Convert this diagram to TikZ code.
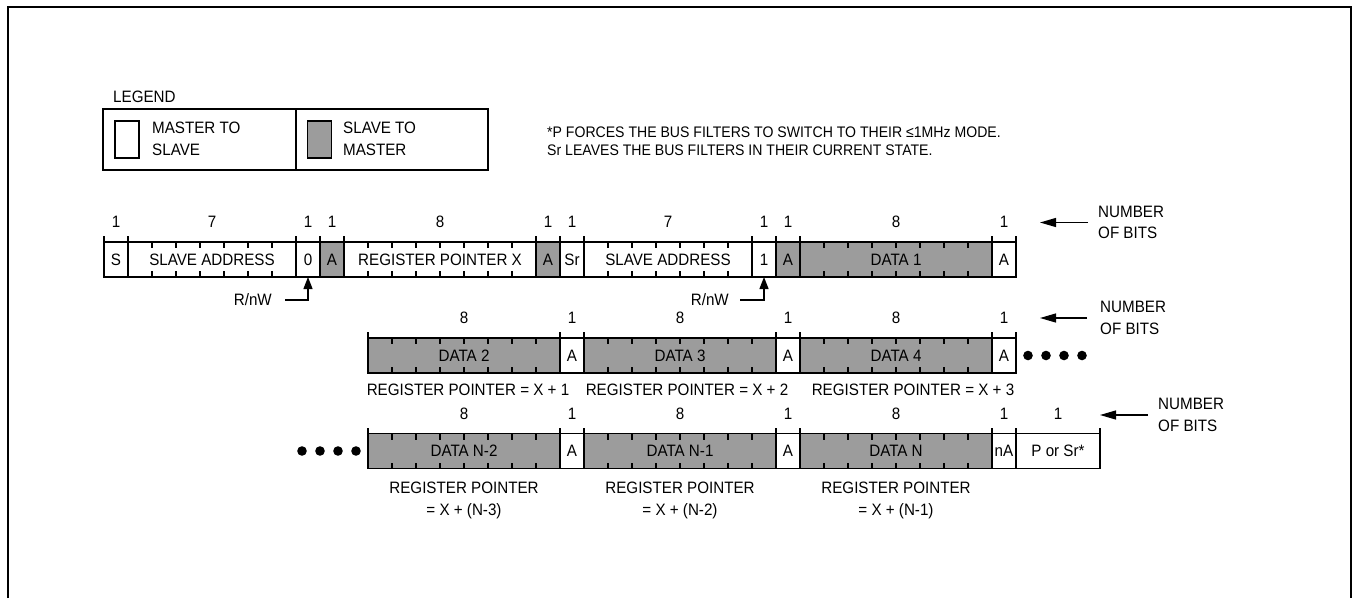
\documentclass[tikz,border=0pt]{standalone}
\usepackage{fontspec}
\setmainfont[FakeStretch=0.92]{Liberation Sans}
\usetikzlibrary{arrows.meta,positioning}
\definecolor{slavegray}{HTML}{9C9C9C}

% ticks and raised separators for one field
\newcommand\bitticks[2]{%
  \ifnum#2>1
    \foreach \k in {2,...,#2}{%
      \draw[tick] ([xshift=(\k-1)*24pt]#1.north west) -- ++(0,-6);
      \draw[tick] ([xshift=(\k-1)*24pt]#1.south west) -- ++(0,6);}
  \fi
  \draw[sep] (#1.north west) -- ++(0,6);
  \draw[sep] (#1.north east) -- ++(0,6);}

\begin{document}
\begin{tikzpicture}[x=1pt,y=1pt,>={Triangle[length=16pt,width=9pt]},
  font=\fontsize{16.5}{21.5}\selectfont,
  field/.style={draw,line width=1.8pt,fill=white,minimum height=35pt,inner sep=0pt,outer sep=0pt,anchor=west},
  slave/.style={field,fill=slavegray},
  tick/.style={line width=1.2pt},
  sep/.style={line width=1.8pt},
  plain/.style={inner sep=0pt,align=center},
  legendbox/.style={draw,line width=1.6pt,minimum height=61pt,inner sep=0pt,outer sep=0pt},
  key/.style={draw,line width=1.2pt,minimum width=24pt,minimum height=37pt,inner sep=0pt},
  pointer/.style={line width=1.3pt,-{Triangle[length=12pt,width=9pt]}},
  numarrow/.style={line width=1.3pt,->}]
  \useasboundingbox (0,0) rectangle (1353,-598);
  \draw[line width=1.4pt] (8,-598) -- (8,-7) -- (1351,-7) -- (1351,-598);

  % legend
  \node[plain,anchor=south west] (legendtitle) at (113,-103) {LEGEND};
  \node[legendbox,minimum width=193pt,anchor=north west] (legm) at (103,-109) {};
  \node[legendbox,minimum width=192pt,anchor=west] (legs) at (legm.east) {};
  \node[key] (keym) at (127,-139.5) {};
  \node[key,fill=slavegray] (keys) at (319.5,-139.5) {};
  \node[plain,align=left,anchor=west,font=\fontsize{16.5}{22}\selectfont] (keymtxt) at (152,-139) {MASTER TO\\SLAVE};
  \node[plain,align=left,anchor=west,font=\fontsize{16.5}{22}\selectfont] (keystxt) at (343,-139) {SLAVE TO\\MASTER};
  \node[plain,align=left,anchor=west,font=\fontsize{15.3}{18}\selectfont] (note) at (547,-141)
    {*P FORCES THE BUS FILTERS TO SWITCH TO THEIR ≤1MHz MODE.\\Sr LEAVES THE BUS FILTERS IN THEIR CURRENT STATE.};

  % first line: address, pointer, repeated start, data 1
  \foreach \i/\off/\len/\cnt/\kind/\txt in {1/0/1/1/field/S, 2/1/7/7/field/SLAVE ADDRESS, 3/8/1/1/field/0,
      4/9/1/1/slave/A, 5/10/8/8/field/REGISTER POINTER X, 6/18/1/1/slave/A, 7/19/1/1/field/Sr,
      8/20/7/7/field/SLAVE ADDRESS, 9/27/1/1/field/1, 10/28/1/1/slave/A, 11/29/8/8/slave/DATA 1, 12/37/1/1/field/A}{
    \node[\kind,minimum width=\len*24pt] (a\i) at (104+\off*24,-259.5) {\txt};
    \node[plain] (na\i) at ([yshift=20pt]a\i.north) {\cnt};
    \bitticks{a\i}{\cnt}}

  % second line
  \foreach \i/\off/\len/\cnt/\kind/\txt in {1/0/8/8/slave/DATA 2, 2/8/1/1/field/A, 3/9/8/8/slave/DATA 3,
      4/17/1/1/field/A, 5/18/8/8/slave/DATA 4, 6/26/1/1/field/A}{
    \node[\kind,minimum width=\len*24pt] (b\i) at (368+\off*24,-355.5) {\txt};
    \node[plain] (nb\i) at ([yshift=20pt]b\i.north) {\cnt};
    \bitticks{b\i}{\cnt}}

  % last line
  \foreach \i/\off/\len/\cnt/\kind/\txt in {1/0/8/8/slave/DATA N-2, 2/8/1/1/field/A, 3/9/8/8/slave/DATA N-1,
      4/17/1/1/field/A, 5/18/8/8/slave/DATA N, 6/26/1/1/field/nA, 7/27/3.5/1/field/P or Sr*}{
    \node[\kind,minimum width=\len*24pt] (c\i) at (368+\off*24,-451) {\txt};
    \node[plain] (nc\i) at ([yshift=20pt]c\i.north) {\cnt};
    \bitticks{c\i}{\cnt}}

  \foreach \x in {1028,1046,1064,1082} \fill (\x,-355.5) circle (4.8pt);
  \foreach \x in {302,320,338,356} \fill (\x,-451) circle (4.8pt);

  % R/nW bits
  \node[plain,anchor=east] (rw1) at (272,-300) {R/nW};
  \node[plain,anchor=east] (rw2) at (729,-300) {R/nW};
  \draw[pointer] ([xshift=13pt]rw1.east) -| (a3.south);
  \draw[pointer] ([xshift=11pt]rw2.east) -| (a9.south);

  % register pointer notes
  \node[plain,below=10.5pt of b1,xshift=4pt] (pb1) {REGISTER POINTER = X + 1};
  \node[plain,below=10.5pt of b3,xshift=7pt] (pb3) {REGISTER POINTER = X + 2};
  \node[plain,below=10.5pt of b5,xshift=17pt] (pb5) {REGISTER POINTER = X + 3};
  \node[plain,below=13pt of c1,font=\fontsize{16.5}{22}\selectfont] (pc1) {REGISTER POINTER\\= X + (N-3)};
  \node[plain,below=13pt of c3,font=\fontsize{16.5}{22}\selectfont] (pc3) {REGISTER POINTER\\= X + (N-2)};
  \node[plain,below=13pt of c5,font=\fontsize{16.5}{22}\selectfont] (pc5) {REGISTER POINTER\\= X + (N-1)};

  % number of bits
  \node[plain,align=left,anchor=west] (bits1) at (1098,-222.5) {NUMBER\\OF BITS};
  \node[plain,align=left,anchor=west] (bits2) at (1100,-318) {NUMBER\\OF BITS};
  \node[plain,align=left,anchor=west] (bits3) at (1158,-415) {NUMBER\\OF BITS};
  \coordinate (tip1) at (1040,-222.5);
  \coordinate (tip2) at (1040,-318);
  \coordinate (tip3) at (1100,-415);
  \draw[numarrow,shorten <=10pt] (bits1.west) -- (tip1);
  \draw[numarrow,shorten <=13pt] (bits2.west) -- (tip2);
  \draw[numarrow,shorten <=10pt] (bits3.west) -- (tip3);
\end{tikzpicture}
\end{document}
